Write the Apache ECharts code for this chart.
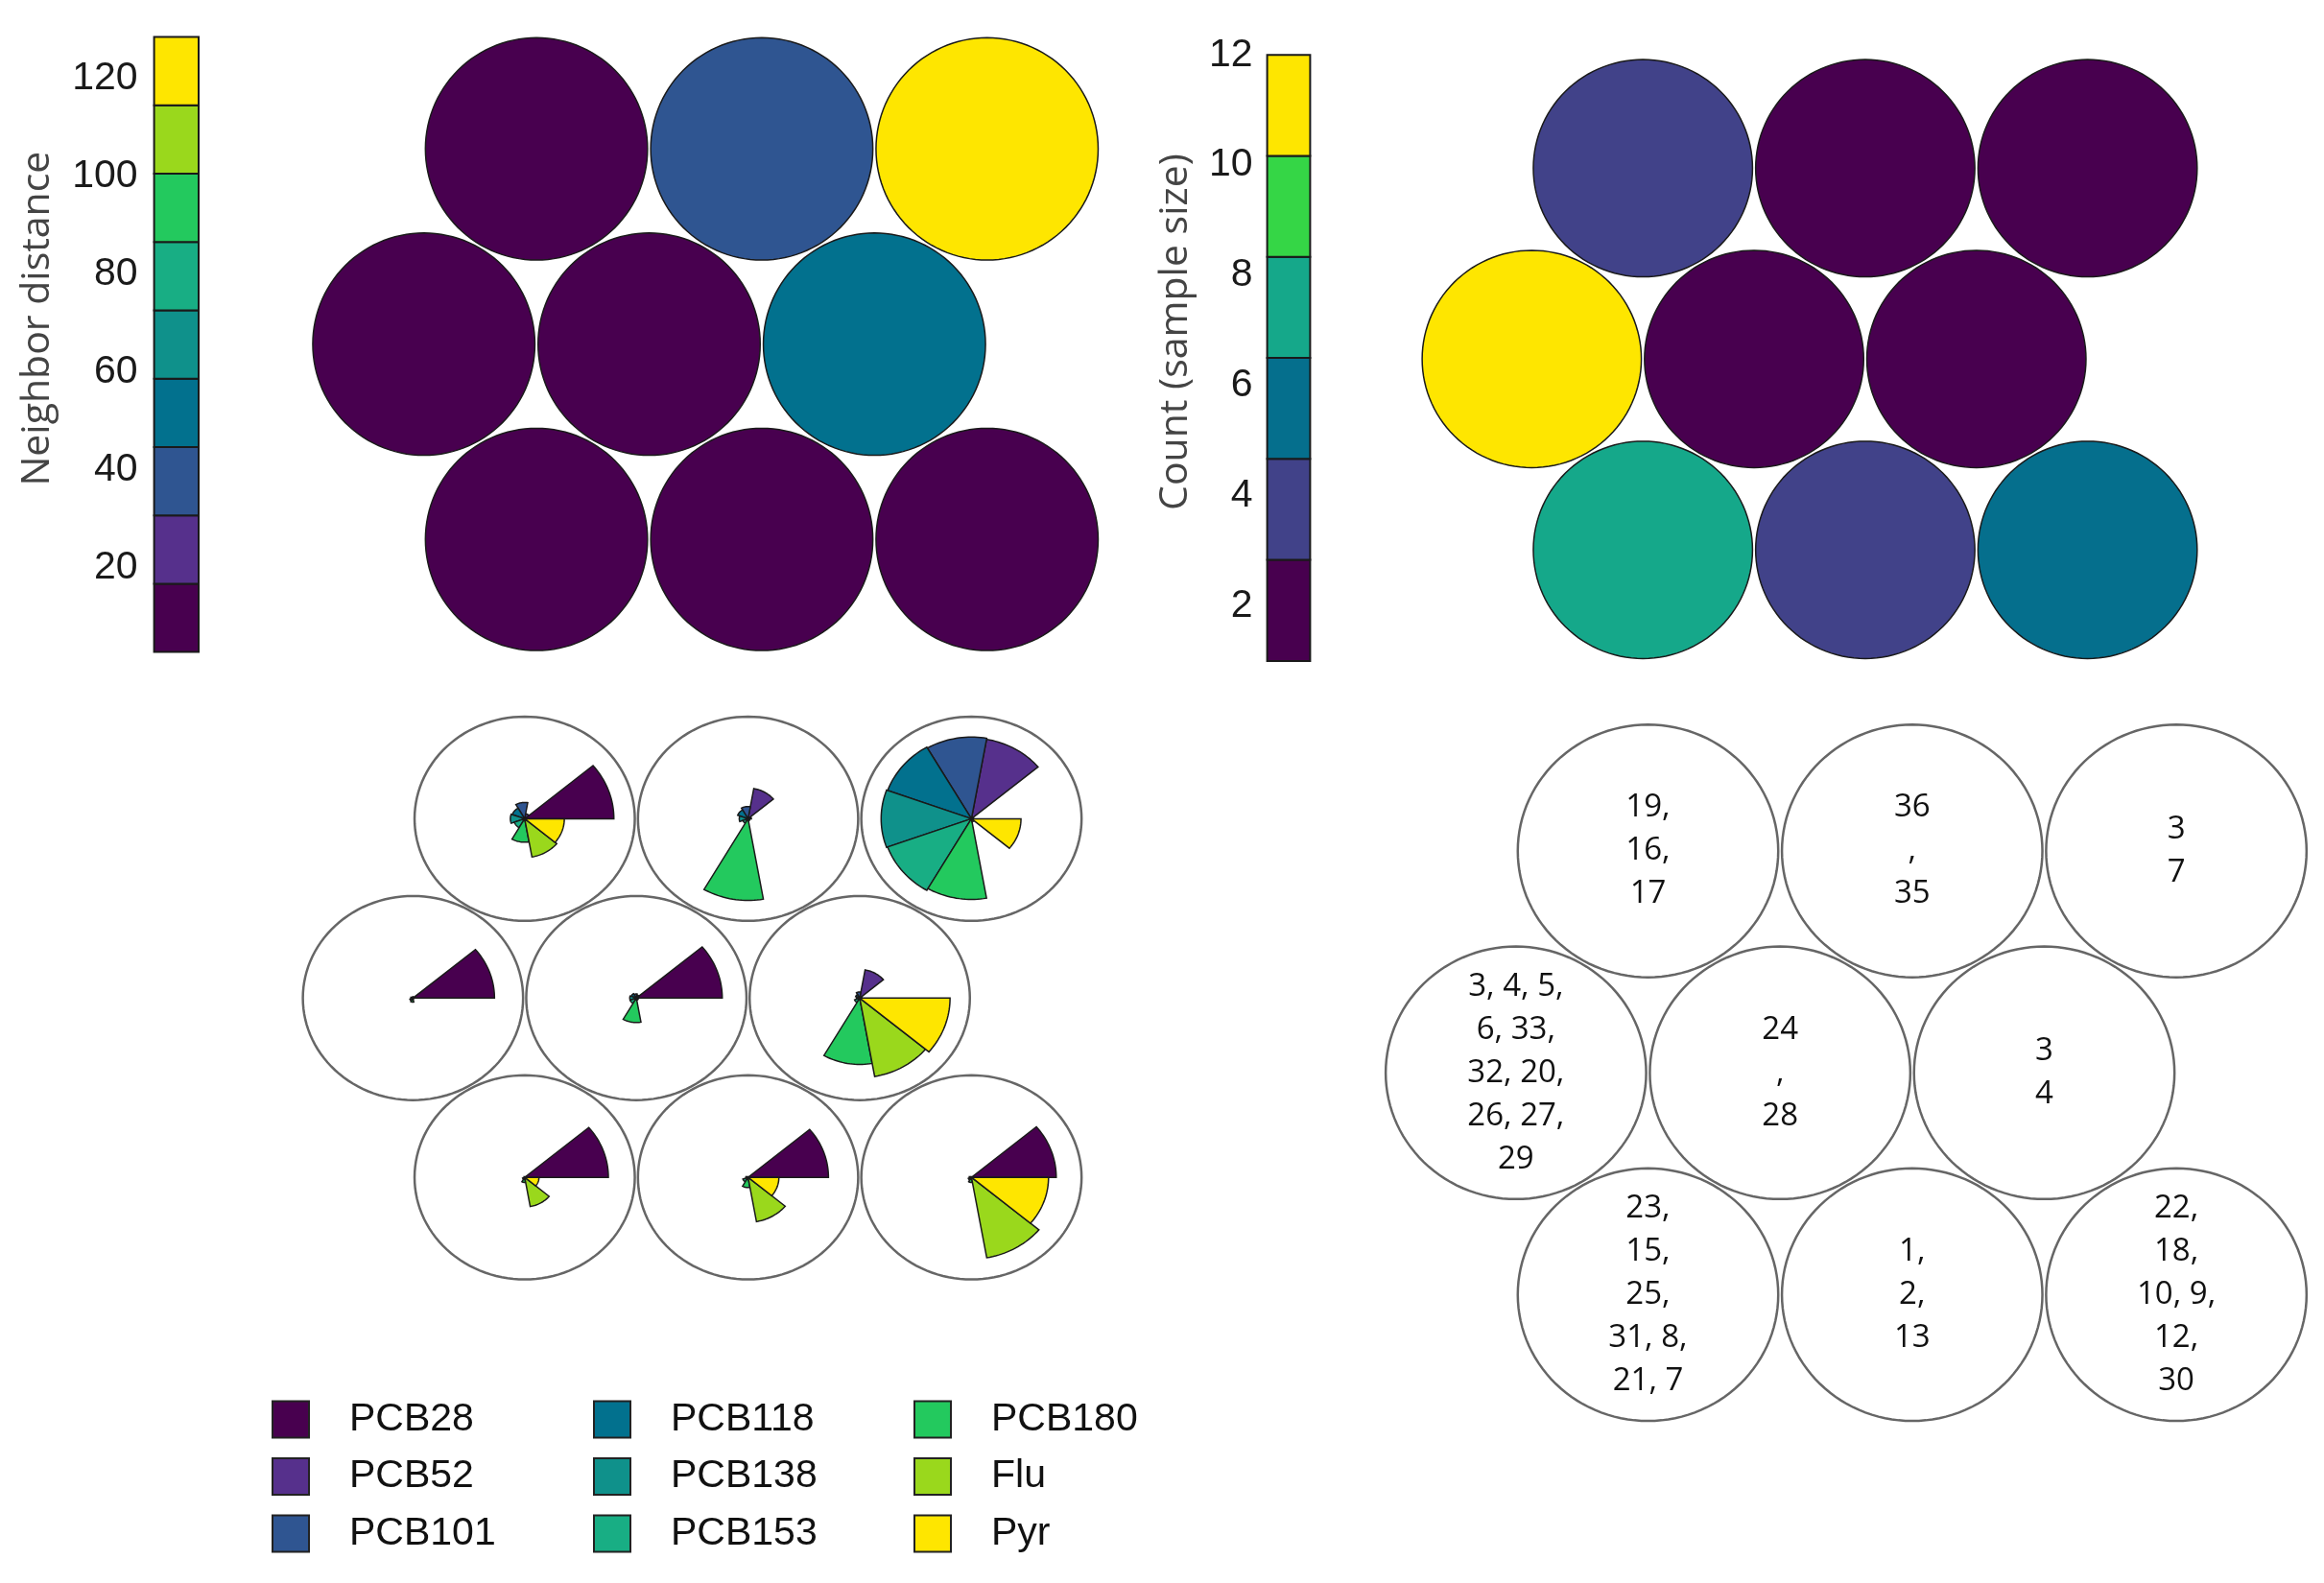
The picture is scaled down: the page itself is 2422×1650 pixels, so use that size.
<!DOCTYPE html>
<html><head><meta charset="utf-8">
<script src="https://cdn.jsdelivr.net/npm/echarts@6/dist/echarts.min.js"></script>
<style>html,body{margin:0;padding:0;background:#fff}#c{width:2422px;height:1650px}</style>
</head><body><div id="c"></div>
<script>
// ================= DATA =================
// 3x3 hexagonal SOM, units listed row by row from the top row
const unitRow = [0, 0, 0, 1, 1, 1, 2, 2, 2];
const unitCol = [0, 1, 2, 0, 1, 2, 0, 1, 2];

// panel A: neighbour distance per unit
const neighborDistance = [8, 38, 128.5, 2.73, 6, 52, 5, 4, 10];
const neighborTicks = [20, 40, 60, 80, 100, 120];

// panel B: counts (sample size) per unit
const sampleCount = [3, 2, 1, 12, 2, 1, 7, 3, 6];
const countTicks = [2, 4, 6, 8, 10, 12];

// panel C: scaled codebook vectors (one row per unit, columns = variables)
const variables = ['PCB28', 'PCB52', 'PCB101', 'PCB118', 'PCB138', 'PCB153', 'PCB180', 'Flu', 'Pyr'];
const codes = [
  [0.81, 0.05, 0.16, 0.12, 0.13, 0.10, 0.23, 0.38, 0.36],
  [0.03, 0.30, 0.12, 0.10, 0.08, 0.05, 0.80, 0.02, 0.00],
  [0.02, 0.79, 0.80, 0.81, 0.82, 0.81, 0.79, 0.03, 0.45],
  [0.74, 0.01, 0.01, 0.01, 0.02, 0.03, 0.04, 0.00, 0.00],
  [0.78, 0.03, 0.04, 0.05, 0.06, 0.06, 0.24, 0.02, 0.00],
  [0.02, 0.28, 0.06, 0.04, 0.03, 0.05, 0.65, 0.78, 0.82],
  [0.76, 0.00, 0.00, 0.00, 0.00, 0.02, 0.05, 0.29, 0.13],
  [0.73, 0.00, 0.00, 0.00, 0.02, 0.05, 0.10, 0.44, 0.28],
  [0.77, 0.00, 0.00, 0.00, 0.02, 0.03, 0.05, 0.80, 0.70]
];

// panel D: sample ids mapped to each unit
const sampleIds = [
  '19,\n16,\n17', '36\n,\n35', '3\n7',
  '3, 4, 5,\n6, 33,\n32, 20,\n26, 27,\n29', '24\n,\n28', '3\n4',
  '23,\n15,\n25,\n31, 8,\n21, 7', '1,\n2,\n13', '22,\n18,\n10, 9,\n12,\n30'
];

// ================= STYLE / LAYOUT =================
const pal9 = ['#48004f', '#56308c', '#2f5591', '#02718e', '#0f918b', '#18ae84', '#23c95e', '#9ad81c', '#fee600'];
const pal6 = ['#48004f', '#414289', '#056f8d', '#15a88a', '#35d646', '#fee600'];
const SQ3 = Math.sqrt(3) / 2;
const R = 0.493; // circle radius in unit spacing

// panels: x of first unit of top row, y of top row, px per unit x/y
const P = {
  a: {x1: 559.1, y0: 155.2, px: 234.8, py: 235.0},
  b: {x1: 1712.2, y0: 175.3, px: 231.7, py: 229.7},
  c: {x1: 546.8, y0: 853.4, px: 232.8, py: 215.8},
  d: {x1: 1717.5, y0: 887.0, px: 275.3, py: 267.0}
};
function hexGridBox(p) {
  return {left: p.x1 - p.px, top: p.y0 - 0.5 * p.py, width: 3.5 * p.px, height: (2 * SQ3 + 1) * p.py};
}
const units = unitRow.map((r, i) => ({x: unitCol[i] + (r === 1 ? 0.5 : 1), y: (2 - r) * SQ3}));

function ellipsePts(api, cx, cy, r) {
  const pts = [];
  for (let i = 0; i < 120; i++) {
    const a = i / 120 * 2 * Math.PI;
    pts.push(api.coord([cx + r * Math.cos(a), cy + r * Math.sin(a)]));
  }
  return pts;
}
function colorFor(v, mn, mx, pal) {
  let k = Math.floor((v - mn) / (mx - mn) * pal.length);
  return pal[Math.max(0, Math.min(pal.length - 1, k))];
}
const ndMin = Math.min(...neighborDistance), ndMax = Math.max(...neighborDistance);
const cMin = Math.min(...sampleCount), cMax = Math.max(...sampleCount);
const breaks = (mn, mx, n) => Array.from({length: n}, (_, i) => [0, mn + i * (mx - mn) / n, mn + (i + 1) * (mx - mn) / n, i]);

const hexAxes = (gi) => ({
  x: {gridIndex: gi, type: 'value', min: 0, max: 3.5, show: false},
  y: {gridIndex: gi, type: 'value', min: -0.5, max: 2 * SQ3 + 0.5, show: false}
});

function colorbarY(gi, mn, mx, ticks, name, gap, margin) {
  return {
    gridIndex: gi, type: 'value', min: mn, max: mx,
    axisLine: {show: false}, axisTick: {show: false}, splitLine: {show: false},
    axisLabel: {customValues: ticks, fontSize: 41, fontFamily: 'Liberation Sans', color: '#1a1a1a', margin: margin},
    name: name, nameLocation: 'middle', nameRotate: 90, nameGap: gap,
    nameTextStyle: {fontFamily: 'Open Sans', fontSize: 41, color: '#444', padding: [0, 0, 0, 54]}
  };
}
function colorbarSeries(gi, mn, mx, pal) {
  return {
    type: 'custom', xAxisIndex: gi, yAxisIndex: gi, silent: true, clip: false,
    encode: {x: 0, y: [1, 2]},
    data: breaks(mn, mx, pal.length),
    renderItem: (p, api) => {
      const a = api.coord([0, api.value(1)]), b = api.coord([1, api.value(2)]);
      return {type: 'rect', shape: {x: a[0], y: b[1], width: b[0] - a[0], height: a[1] - b[1]},
        style: {fill: pal[api.value(3)], stroke: '#1a1a1a', lineWidth: 2}};
    }
  };
}
function filledHexSeries(gi, vals, mn, mx, pal) {
  return {
    type: 'custom', xAxisIndex: gi, yAxisIndex: gi, silent: true, clip: false,
    encode: {x: 0, y: 1},
    data: units.map((u, i) => [u.x, u.y, vals[i]]),
    renderItem: (p, api) => ({type: 'polygon',
      shape: {points: ellipsePts(api, api.value(0), api.value(1), R)},
      style: {fill: colorFor(api.value(2), mn, mx, pal), stroke: '#1a1a1a', lineWidth: 1.5}})
  };
}

const ax = [hexAxes(0), null, hexAxes(2), null, hexAxes(4), hexAxes(5)];
const xAxes = [ax[0].x, {gridIndex: 1, type: 'value', min: 0, max: 1, show: false},
  ax[2].x, {gridIndex: 3, type: 'value', min: 0, max: 1, show: false}, ax[4].x, ax[5].x];
const yAxes = [ax[0].y, colorbarY(1, ndMin, ndMax, neighborTicks, 'Neighbor distance', 101, 17),
  ax[2].y, colorbarY(3, cMin, cMax, countTicks, 'Count (sample size)', 75, 15), ax[4].y, ax[5].y];

const series = [
  filledHexSeries(0, neighborDistance, ndMin, ndMax, pal9),
  colorbarSeries(1, ndMin, ndMax, pal9),
  filledHexSeries(2, sampleCount, cMin, cMax, pal6),
  colorbarSeries(3, cMin, cMax, pal6),
  { // panel C outlines
    type: 'custom', xAxisIndex: 4, yAxisIndex: 4, silent: true, clip: false, encode: {x: 0, y: 1},
    data: units.map(u => [u.x, u.y]),
    renderItem: (p, api) => ({type: 'polygon', shape: {points: ellipsePts(api, api.value(0), api.value(1), R)},
      style: {fill: 'none', stroke: '#666', lineWidth: 2.5}})
  }
];
variables.forEach((name, k) => {
  series.push({
    type: 'custom', name: name, xAxisIndex: 4, yAxisIndex: 4, silent: true, clip: false, z: 3,
    encode: {x: 0, y: 1},
    itemStyle: {color: pal9[k]},
    data: units.map((u, i) => [u.x, u.y, codes[i][k]]),
    renderItem: (p, api) => {
      const cx = api.value(0), cy = api.value(1), r = api.value(2) * R;
      const a0 = k * 40, a1 = (k + 1) * 40;
      const pts = [api.coord([cx, cy])];
      for (let j = 0; j <= 20; j++) {
        const a = (a0 + (a1 - a0) * j / 20) * Math.PI / 180;
        pts.push(api.coord([cx + r * Math.cos(a), cy + r * Math.sin(a)]));
      }
      return {type: 'polygon', shape: {points: pts}, style: {fill: pal9[k], stroke: '#1a1a1a', lineWidth: 1.5}};
    }
  });
});
series.push({ // panel D
  type: 'custom', xAxisIndex: 5, yAxisIndex: 5, silent: true, clip: false, encode: {x: 0, y: 1},
  data: units.map((u, i) => [u.x, u.y, i]),
  renderItem: (p, api) => {
    const c = api.coord([api.value(0), api.value(1)]);
    return {type: 'group', children: [
      {type: 'polygon', shape: {points: ellipsePts(api, api.value(0), api.value(1), R)},
        style: {fill: 'none', stroke: '#666', lineWidth: 2.5}},
      {type: 'text', style: {text: sampleIds[api.value(2)], x: c[0], y: c[1], align: 'center', verticalAlign: 'middle',
        fontFamily: 'Open Sans', fontSize: 33, lineHeight: 45, fill: '#111'}}
    ]};
  }
});

const legendBase = (left, names) => ({
  orient: 'vertical', left: left, top: 1454, itemWidth: 38, itemHeight: 38, itemGap: 18.5, icon: 'rect',
  selectedMode: false, data: names,
  itemStyle: {borderColor: '#222', borderWidth: 2},
  textStyle: {fontFamily: 'Liberation Sans', fontSize: 41, color: '#111', padding: [0, 0, 0, 37]}
});

const option = {
  animation: false,
  backgroundColor: '#fff',
  grid: [hexGridBox(P.a), {left: 160.6, top: 38.6, width: 46.4, height: 641},
    hexGridBox(P.b), {left: 1320.6, top: 57.2, width: 44.8, height: 631.7},
    hexGridBox(P.c), hexGridBox(P.d)],
  xAxis: xAxes, yAxis: yAxes,
  legend: [legendBase(278, variables.slice(0, 3)), legendBase(613, variables.slice(3, 6)), legendBase(947, variables.slice(6, 9))],
  series: series
};
const chart = echarts.init(document.getElementById('c'), null, {renderer: 'canvas'});
chart.setOption(option);
</script></body></html>
